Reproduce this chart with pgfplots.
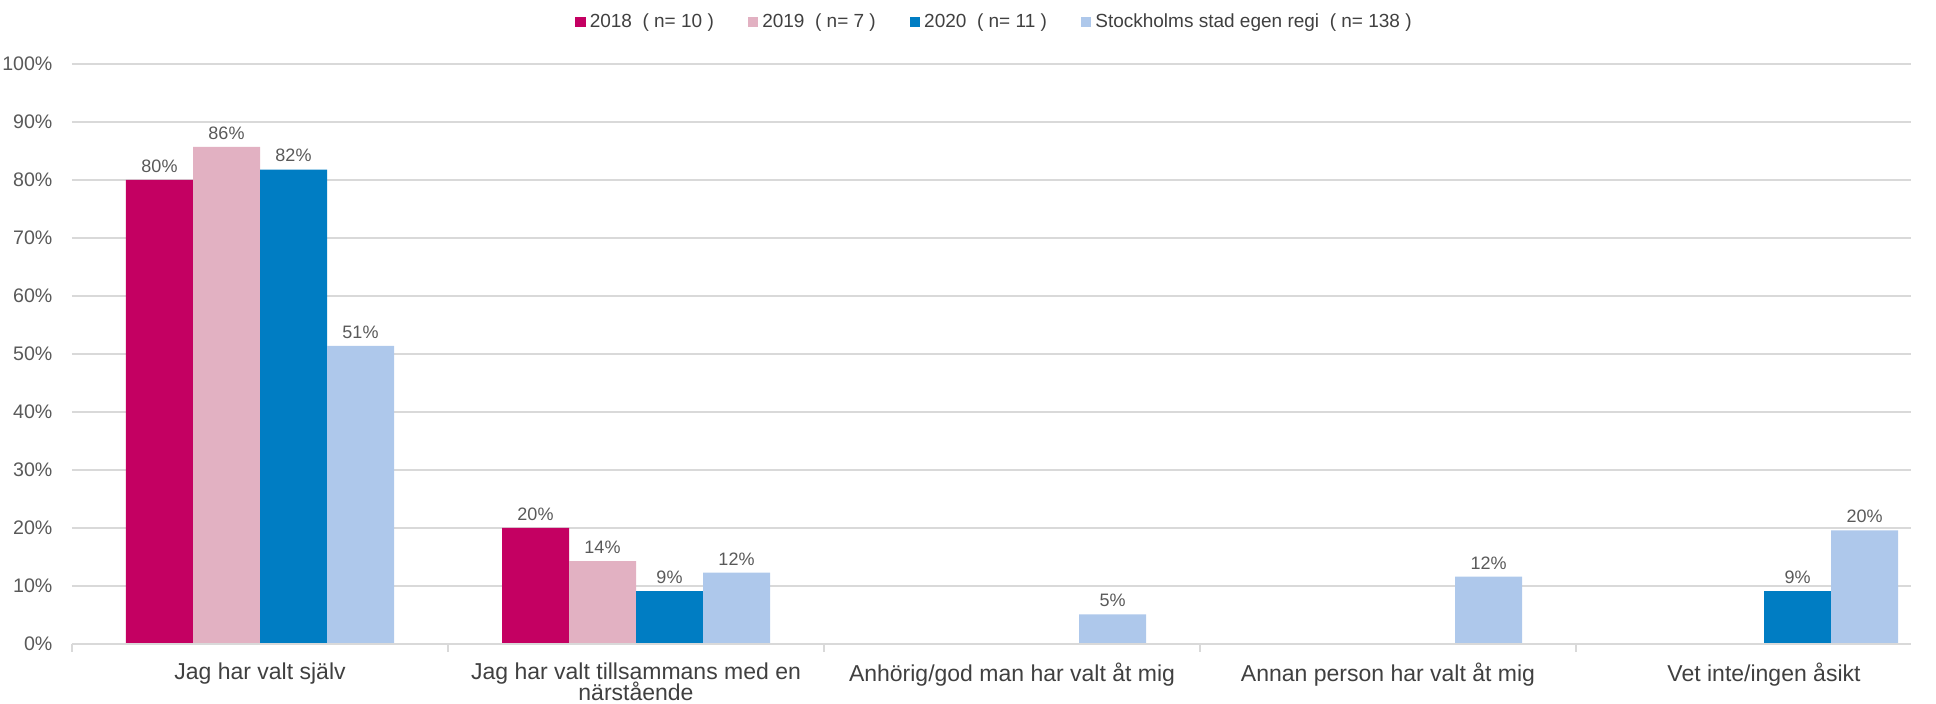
\documentclass[border=0pt]{standalone}
\usepackage{fontspec}
\setmainfont{Liberation Sans}
\usepackage{pgfplots}
\pgfplotsset{compat=1.18}

\definecolor{c2018}{HTML}{C40062}
\definecolor{c2019}{HTML}{E2B1C2}
\definecolor{c2020}{HTML}{007DC3}
\definecolor{cSthlm}{HTML}{AEC8EB}
\definecolor{gridGray}{HTML}{D9D9D9}
\definecolor{txtGray}{HTML}{595959}
\definecolor{catGray}{HTML}{404040}

\begin{document}
\begin{tikzpicture}
\begin{axis}[
    scale only axis, width=919.5pt, height=290pt,
    xmin=-0.5, xmax=4.391, ymin=0, ymax=100,
    ybar=0pt, bar width=33.5pt,
    axis line style={draw=none},
    xtick pos=bottom, ytick pos=left,
    xtick={0,1,2,3,4},
    xticklabels={Jag har valt själv,
                 Jag har valt tillsammans med en\\[-1.5pt]närstående,
                 Anhörig/god man har valt åt mig,
                 Annan person har valt åt mig,
                 Vet inte/ingen åsikt},
    xticklabel style={font=\fontsize{11.5}{12}\selectfont, text=catGray,
                      align=center, inner sep=1pt, yshift=-3.8pt},
    major x tick style={draw=none},
    minor xtick={-0.5,0.5,1.5,2.5,3.5},
    minor tick length=4pt, tick align=outside,
    minor x tick style={gridGray, line width=0.75pt},
    ytick={0,10,...,100},
    yticklabel={\pgfmathprintnumber{\tick}\%},
    yticklabel style={font=\fontsize{9.8}{10}\selectfont, text=txtGray, xshift=-2pt,
                      /pgf/number format/assume math mode=true},
    major y tick style={draw=none},
    ymajorgrids, major grid style={gridGray, line width=0.75pt},
    nodes near coords={\pgfmathprintnumber[fixed,precision=0]{\pgfplotspointmeta}\%},
    every node near coord/.append style={font=\fontsize{9}{10}\selectfont,
                      text=txtGray, inner sep=2pt, yshift=1.5pt,
                      /pgf/number format/assume math mode=true},
    legend columns=4,
    legend style={at={(0.2735,1.0724)}, anchor=west, draw=none, fill=none,
                  inner sep=0pt, font=\fontsize{9.5}{10}\selectfont, text=catGray,
                  /tikz/every even column/.append style={column sep=15pt}},
    legend image code/.code={\fill[#1] (0pt,-2.6pt) rectangle (5.2pt,2.6pt);},
]
\addplot[draw=none, fill=c2018] coordinates {(0,80.0) (1,20.0)};
\addlegendentry{2018\ \ ( n= 10 )}
\addplot[draw=none, fill=c2019] coordinates {(0,85.7) (1,14.3)};
\addlegendentry{2019\ \ ( n= 7 )}
\addplot[draw=none, fill=c2020] coordinates {(0,81.8) (1,9.1) (4,9.1)};
\addlegendentry{2020\ \ ( n= 11 )}
\addplot[draw=none, fill=cSthlm] coordinates {(0,51.4) (1,12.3) (2,5.1) (3,11.6) (4,19.6)};
\addlegendentry{Stockholms stad egen regi\ \ ( n= 138 )}
\draw[gridGray, line width=1pt] (rel axis cs:0,0) -- (rel axis cs:1,0);
\end{axis}
\pgfresetboundingbox
\path[use as bounding box] (-36pt,-30pt) rectangle (932pt,322pt);
\end{tikzpicture}
\end{document}
